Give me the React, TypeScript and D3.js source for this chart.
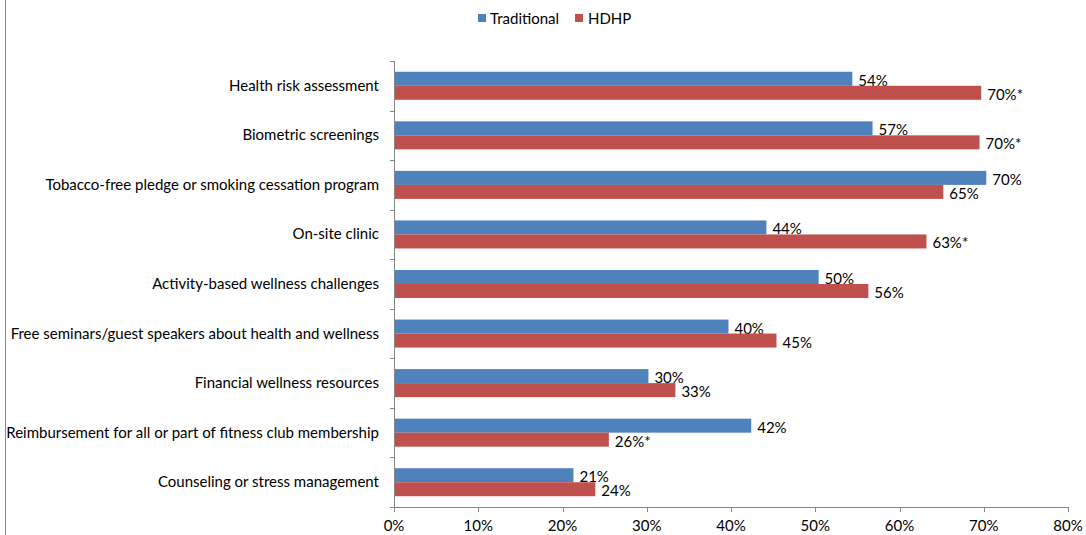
import React from "react";
import * as d3 from "d3";

const categories = [
  "Health risk assessment",
  "Biometric screenings",
  "Tobacco-free pledge or smoking cessation program",
  "On-site clinic",
  "Activity-based wellness challenges",
  "Free seminars/guest speakers about health and wellness",
  "Financial wellness resources",
  "Reimbursement for all or part of fitness club membership",
  "Counseling or stress management",
];
const traditional = [54.4, 56.8, 70.3, 44.2, 50.4, 39.7, 30.2, 42.4, 21.3];
const hdhp = [69.7, 69.5, 65.2, 63.2, 56.3, 45.4, 33.4, 25.5, 23.9];
const traditionalLabels = ["54%", "57%", "70%", "44%", "50%", "40%", "30%", "42%", "21%"];
const hdhpLabels = ["70%*", "70%*", "65%", "63%*", "56%", "45%", "33%", "26%*", "24%"];
const xTicks = [0, 10, 20, 30, 40, 50, 60, 70, 80];
const seriesNames = ["Traditional", "HDHP"];

const W = 1086;
const H = 535;
const FONT = "Lato, 'Open Sans', sans-serif";
const FS = 15;
const BLUE = "#4F81BD";
const RED = "#C0504D";
const AXIS = "#868686";

export default function App() {
  const x = d3.scaleLinear().domain([0, 80]).range([394, 1068]);
  const y = d3.scaleBand<string>().domain(categories).range([61, 507]);
  const bh = 14;
  const inner = d3.scaleBand<string>().domain(seriesNames).range([0, bh * 2]);
  const off = (y.bandwidth() - bh * 2) / 2;
  const series = [traditional, hdhp];
  const labels = [traditionalLabels, hdhpLabels];
  const colors = [BLUE, RED];
  const bounds = d3.range(categories.length + 1).map((i) => 61 + i * y.step());

  return (
    <svg width={W} height={H} style={{ position: "absolute", left: 0, top: 0 }} fontFamily={FONT}>
      <rect x={0} y={0} width={W} height={H} fill="#fff" />
      <line x1={5.5} x2={5.5} y1={0} y2={H} stroke={AXIS} strokeWidth={1} />
      {/* legend */}
      <rect x={478} y={14} width={8} height={8} fill={BLUE} />
      <text x={490} y={18} dominantBaseline="central" fontSize={FS} fill="#000">Traditional</text>
      <rect x={575} y={14} width={8} height={8} fill={RED} />
      <text x={588} y={18} dominantBaseline="central" fontSize={FS} fill="#000">HDHP</text>

      {categories.map((c, ci) =>
        series.map((s, si) => {
          const yy = (y(c) as number) + off + (inner(seriesNames[si]) as number);
          return (
            <g key={c + si}>
              <rect x={x(0)} y={yy} width={x(s[ci]) - x(0)} height={bh} fill={colors[si]} />
              <text x={x(s[ci]) + 6} y={yy + bh / 2 + 1} dominantBaseline="central" fontSize={FS} fill="#000">
                {labels[si][ci]}
              </text>
            </g>
          );
        })
      )}

      {categories.map((c) => (
        <text key={c} x={379} y={(y(c) as number) + y.bandwidth() / 2 - 1} textAnchor="end" dominantBaseline="central" fontSize={FS} fill="#000">
          {c}
        </text>
      ))}

      {/* y axis */}
      <line x1={394.5} x2={394.5} y1={61} y2={507} stroke={AXIS} />
      {bounds.map((b, i) => (
        <line key={i} x1={390} x2={394.5} y1={Math.round(b) + 0.5} y2={Math.round(b) + 0.5} stroke={AXIS} />
      ))}
      {/* x axis */}
      <line x1={394} x2={1068} y1={507.5} y2={507.5} stroke={AXIS} />
      {xTicks.map((t) => (
        <g key={t}>
          <line x1={Math.round(x(t)) + 0.5} x2={Math.round(x(t)) + 0.5} y1={507} y2={512} stroke={AXIS} />
          <text x={x(t)} y={525} textAnchor="middle" dominantBaseline="central" fontSize={FS} fill="#000">
            {t + "%"}
          </text>
        </g>
      ))}
    </svg>
  );
}
